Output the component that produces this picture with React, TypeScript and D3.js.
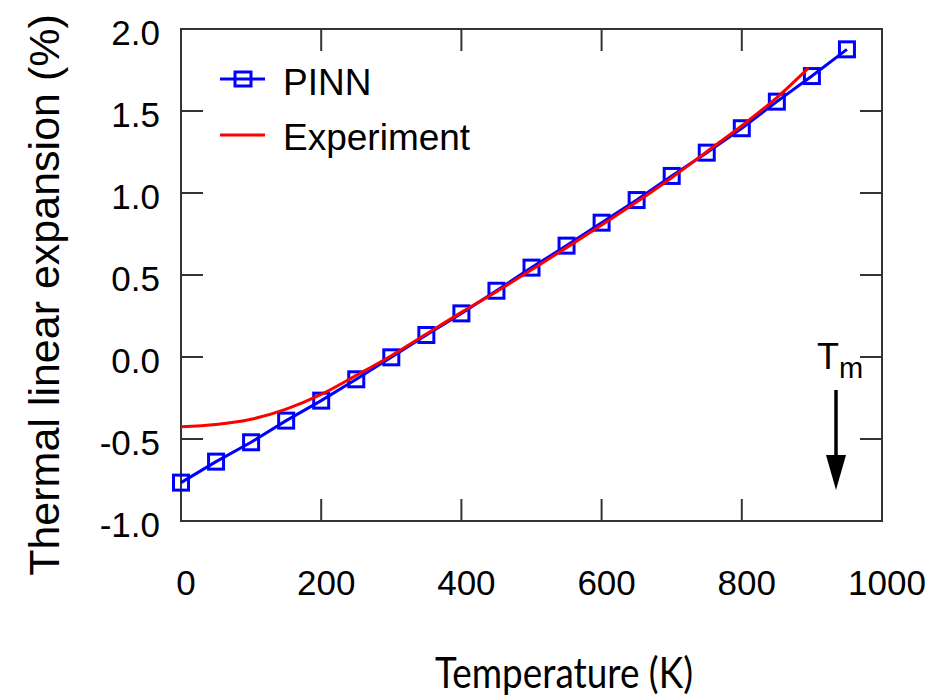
import React from "react";
import * as d3 from "d3";

const pinnT = [0, 50, 100, 150, 200, 250, 300, 350, 400, 450, 500, 550, 600, 650, 700, 750, 800, 850, 900, 950];
const pinnV = [-0.766, -0.638, -0.52, -0.388, -0.266, -0.136, -0.002, 0.134, 0.266, 0.404, 0.545, 0.679, 0.819, 0.957, 1.104, 1.246, 1.395, 1.557, 1.713, 1.876];

const expT = [0, 50, 100, 150, 200, 250, 300, 350, 400, 450, 500, 550, 600, 650, 700, 750, 800, 850, 895];
const expV = [-0.425, -0.412, -0.38, -0.318, -0.228, -0.112, 0.008, 0.14, 0.272, 0.398, 0.532, 0.667, 0.805, 0.945, 1.093, 1.252, 1.41, 1.582, 1.762];

const xTicks = [0, 200, 400, 600, 800, 1000];
const yTicks = [-1.0, -0.5, 0.0, 0.5, 1.0, 1.5, 2.0];

const seriesNames = ["PINN", "Experiment"];
const xTitle = "Temperature (K)";
const yTitle = "Thermal linear expansion (%)";

const W = 935;
const H = 699;
const L = 181, R = 882, T = 29, B = 521;
const TICK = 22;
const AX = "#333333";
const BLUE = "#0000ff";
const RED = "#ff0000";
const SANS = "'Liberation Sans', Arial, Helvetica, sans-serif";

export default function App() {
  const x = d3.scaleLinear().domain([0, 1000]).range([L, R]);
  const y = d3.scaleLinear().domain([-1, 2]).range([B, T]);

  const pinnPts: [number, number][] = pinnT.map((t, i) => [t, pinnV[i]]);
  const expPts: [number, number][] = expT.map((t, i) => [t, expV[i]]);

  const pinnLine = d3.line<[number, number]>().x(d => x(d[0])).y(d => y(d[1]))(pinnPts) || "";
  const expLine = d3.line<[number, number]>().x(d => x(d[0])).y(d => y(d[1])).curve(d3.curveMonotoneX)(expPts) || "";

  const ms = 15;

  return (
    <svg width={W} height={H} style={{ position: "absolute", left: 0, top: 0, display: "block", background: "#fff" }}>
      <rect x={0} y={0} width={W} height={H} fill="#fff" />
      {xTicks.map(t => (
        <g key={"xt" + t}>
          <line x1={x(t)} x2={x(t)} y1={B} y2={B - TICK} stroke={AX} strokeWidth={2} />
          <line x1={x(t)} x2={x(t)} y1={T} y2={T + TICK} stroke={AX} strokeWidth={2} />
          <text x={x(t) + 5} y={595} textAnchor="middle" fontFamily={SANS} fontSize={35} fill="#000">{t}</text>
        </g>
      ))}
      {yTicks.map(v => (
        <g key={"yt" + v}>
          <line x1={L} x2={L + TICK} y1={y(v)} y2={y(v)} stroke={AX} strokeWidth={2} />
          <line x1={R} x2={R - TICK} y1={y(v)} y2={y(v)} stroke={AX} strokeWidth={2} />
          <text x={160} y={y(v) + 16} textAnchor="end" fontFamily={SANS} fontSize={35} fill="#000">{v.toFixed(1)}</text>
        </g>
      ))}
      <rect x={L} y={T} width={R - L} height={B - T} fill="none" stroke={AX} strokeWidth={2} />

      <path d={pinnLine} fill="none" stroke={BLUE} strokeWidth={3} />
      {pinnPts.map((d, i) => (
        <rect key={"m" + i} x={x(d[0]) - ms / 2} y={y(d[1]) - ms / 2} width={ms} height={ms} fill="none" stroke={BLUE} strokeWidth={3} />
      ))}
      <path d={expLine} fill="none" stroke={RED} strokeWidth={3} />

      <line x1={220} x2={265} y1={79} y2={79} stroke={BLUE} strokeWidth={3} />
      <rect x={243 - 8} y={79 - 7} width={16} height={14} fill="none" stroke={BLUE} strokeWidth={3} />
      <text x={283} y={95} fontFamily={SANS} fontSize={37} fill="#000">{seriesNames[0]}</text>
      <line x1={220} x2={265} y1={135} y2={135} stroke={RED} strokeWidth={3} />
      <text x={283} y={150} fontFamily={SANS} fontSize={37} fill="#000">{seriesNames[1]}</text>

      <text x={817} y={369} fontFamily={SANS} fontSize={36} fill="#000">
        T<tspan fontSize={29} dy={9}>m</tspan>
      </text>
      <line x1={836} x2={836} y1={390} y2={458} stroke="#000" strokeWidth={3.5} />
      <polygon points="826,455 846,455 836,490" fill="#000" />

      <text transform="translate(59,295) rotate(-90)" textAnchor="middle" fontFamily={SANS} fontSize={43} fill="#000">{yTitle}</text>
      <text transform="translate(564,688) scale(1,1.2)" textAnchor="middle" fontFamily="Lato, 'Open Sans', sans-serif" fontSize={36} textLength={258} lengthAdjust="spacingAndGlyphs" fill="#000">{xTitle}</text>
    </svg>
  );
}
